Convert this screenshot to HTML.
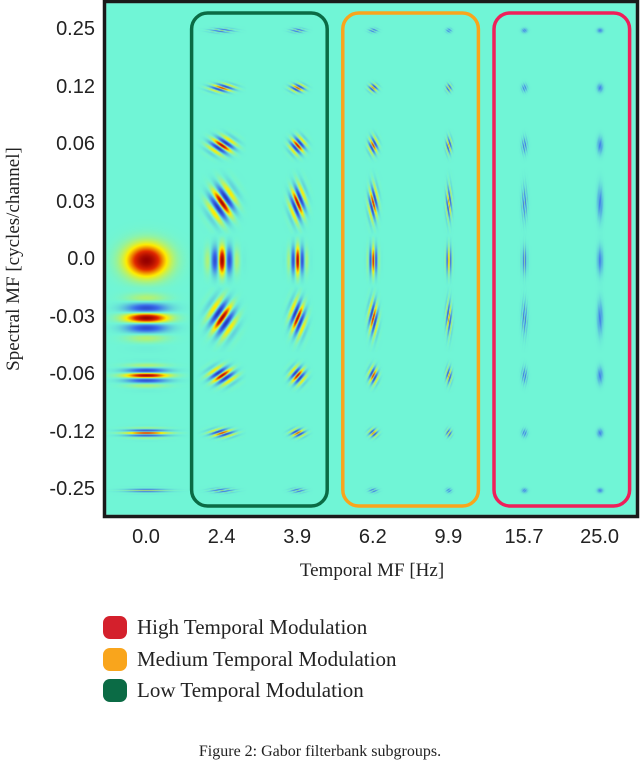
<!DOCTYPE html>
<html><head><meta charset="utf-8">
<style>
body{margin:0;background:#fff;width:640px;height:765px;position:relative;overflow:hidden;font-family:"Liberation Sans",sans-serif}
.t{position:absolute;color:#222}
</style></head>
<body>
<div style="position:absolute;left:0;top:0;width:640px;height:600px">
<canvas id="cv" width="640" height="600" style="position:absolute;left:0;top:0"></canvas>
<svg id="ov" width="640" height="600" style="position:absolute;left:0;top:0"></svg>
<div id="yt"></div>
<div id="xt"></div>
<div class="t" style="left:222px;top:560px;width:300px;text-align:center;font:19px 'Liberation Serif',serif">Temporal MF [Hz]</div>
<div class="t" style="left:-136px;top:248px;width:300px;text-align:center;font:19px 'Liberation Serif',serif;transform:rotate(-90deg)">Spectral MF [cycles/channel]</div>
</div>
<div>
<div style="position:absolute;left:103px;top:616px;width:24px;height:23px;border-radius:7px;background:#d4202c"></div>
<div class="t" style="left:137px;top:615px;font:21px 'Liberation Serif',serif">High Temporal Modulation</div>
<div style="position:absolute;left:103px;top:648px;width:24px;height:23px;border-radius:7px;background:#f9a51c"></div>
<div class="t" style="left:137px;top:647px;font:21px 'Liberation Serif',serif">Medium Temporal Modulation</div>
<div style="position:absolute;left:103px;top:679px;width:24px;height:23px;border-radius:7px;background:#0b6b45"></div>
<div class="t" style="left:137px;top:678px;font:21px 'Liberation Serif',serif">Low Temporal Modulation</div>
</div>
<div class="t" style="left:0;top:743px;width:640px;text-align:center;font:16px 'Liberation Serif',serif">Figure 2: Gabor filterbank subgroups.</div>
<script>
const temporalMF=[0.0,2.4,3.9,6.2,9.9,15.7,25.0];
const temporalLabels=["0.0","2.4","3.9","6.2","9.9","15.7","25.0"];
const spectralMF=[0.25,0.12,0.06,0.03,0.0,-0.03,-0.06,-0.12,-0.25];
const spectralLabels=["0.25","0.12","0.06","0.03","0.0","-0.03","-0.06","-0.12","-0.25"];
const groupNames=["low","medium","high"];
const groupStart=[1,3,5];
const groupEnd=[2,4,6];
const groupColors=["#0b6b45","#f9a51c","#ef1f5a"];

const colX=i=>146+i*75.6;
const rowY=j=>30+j*57.5;
const PL=106,PT=3,PR=636,PB=515;

const cv=document.getElementById('cv');const ctx=cv.getContext('2d');
const W=640,H=600;const img=ctx.createImageData(W,H);
const field=new Float32Array(W*H);
temporalMF.forEach((ft,i)=>{spectralMF.forEach((fs,j)=>{
  if(ft===0&&fs>0)return;
  const cx=colX(i),cy=rowY(j);
  const kx=ft/38, ky=(fs>0?-1:1)*Math.abs(fs)/0.66;
  const k=Math.hypot(kx,ky);
  const sx=ft>0?Math.max(2,0.5/kx):14;
  const sy=fs!==0?Math.max(1.6,0.5/Math.abs(ky)):(ft>0?9:11);
  const p=k>0?1/k:0;
  const blur=p>0?Math.exp(-Math.pow(2.5/p,2)):1;
  const dark=p>0?(1-blur)*0.38:0;
  const R=Math.ceil(3*Math.max(sx,sy));
  for(let y=Math.floor(cy-R);y<=cy+R;y++)for(let x=Math.floor(cx-R);x<=cx+R;x++){
    if(x<PL||x>=PR||y<PT||y>=PB)continue;
    const dx=x-cx,dy=y-cy;
    const e=Math.exp(-0.5*(dx*dx/(sx*sx)+dy*dy/(sy*sy)));
    const c=p>0?Math.cos(2*Math.PI*(dx*kx+dy*ky)):1;
    field[y*W+x]+=e*(blur*c-dark);
  }
});});
const bg=[112,245,214];
function cmap(v){v=Math.max(-1,Math.min(1,v));
  const lerp=(a,b,t)=>a.map((c,k)=>c+(b[k]-c)*t);
  if(v>=0){if(v<0.35)return lerp(bg,[255,238,0],v/0.35);if(v<0.7)return lerp([255,238,0],[225,40,0],(v-0.35)/0.35);return lerp([225,40,0],[150,0,0],(v-0.7)/0.3);}
  v=-v;if(v<0.45)return lerp(bg,[60,110,235],v/0.45);return lerp([60,110,235],[15,15,160],(v-0.45)/0.55);}
for(let y=0;y<H;y++)for(let x=0;x<W;x++){const o=(y*W+x)*4;
  if(x>=PL&&x<PR&&y>=PT&&y<PB){const c=cmap(field[y*W+x]);img.data[o]=c[0];img.data[o+1]=c[1];img.data[o+2]=c[2];}
  else{img.data[o]=255;img.data[o+1]=255;img.data[o+2]=255;}
  img.data[o+3]=255;}
ctx.putImageData(img,0,0);

const ns='http://www.w3.org/2000/svg';const ov=document.getElementById('ov');
const frame=document.createElementNS(ns,'rect');
frame.setAttribute('x',PL-1.5);frame.setAttribute('y',PT-1.5);frame.setAttribute('width',PR-PL+3);frame.setAttribute('height',PB-PT+3);
frame.setAttribute('fill','none');frame.setAttribute('stroke','#1a1a1a');frame.setAttribute('stroke-width','3.5');


ov.appendChild(frame);
groupNames.forEach((g,k)=>{
  const r=document.createElementNS(ns,'rect');
  const x0=colX(groupStart[k])-30,x1=colX(groupEnd[k])+30;
  r.setAttribute('x',x0);r.setAttribute('y',13);r.setAttribute('width',x1-x0);r.setAttribute('height',493);
  r.setAttribute('rx',16);r.setAttribute('fill','none');r.setAttribute('stroke',groupColors[k]);r.setAttribute('stroke-width','3.5');
  
  
  ov.appendChild(r);
});
const yt=document.getElementById('yt');
spectralLabels.forEach((s,j)=>{const d=document.createElement('div');d.className='t';
  d.style.cssText='right:'+(640-95)+'px;top:'+(rowY(j)-12)+'px;font-size:20px;text-align:right';d.textContent=s;
  
  
  yt.appendChild(d);});
const xt=document.getElementById('xt');
temporalLabels.forEach((s,i)=>{const d=document.createElement('div');d.className='t';
  d.style.cssText='left:'+(colX(i)-40)+'px;width:80px;text-align:center;top:526px;font-size:20px';d.textContent=s;
  
  
  xt.appendChild(d);});
</script>
</body></html>
